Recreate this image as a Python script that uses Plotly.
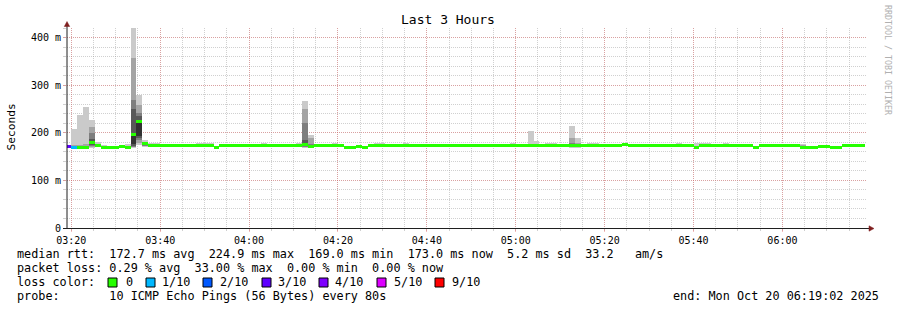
import plotly.graph_objects as go
import pandas as pd

# ---------------- data ----------------
TITLE = "Last 3 Hours"
FIRST_STEP = "2025-10-20 03:18:40"   # start of first (partial) 80 s step
STEP_SECONDS = 80
X_RANGE = ["2025-10-20 03:19:02", "2025-10-20 06:19:02"]

# median rtt per 80 s step (ms)
median_ms = [
    171, 170, 170, 170, 179, 174, 170, 169, 169, 171,
    169, 197, 223, 176.5, 172.5, 172.5, 172.5, 172.5, 173, 173.5,
    173.5, 172.5, 173, 173, 172.5, 170, 172.5, 172.5, 172.5, 174,
    172.5, 172.5, 172.5, 172.5, 172.5, 172.5, 174, 174, 172.5, 172.5,
    176, 172, 172.5, 172.5, 172.5, 172.5, 172.5, 170, 170, 171,
    169.5, 172.5, 174, 174, 172.5, 172.5, 172.5, 172.5, 172.5, 172.5,
    172.5, 172.5, 172.5, 172.5, 172.5, 173.5, 173.5, 172.5, 172.5, 172.5,
    174, 172.5, 172.5, 172.5, 172.5, 172.5, 172.5, 172.5, 174, 172.5,
    172.5, 172.5, 172.5, 172.5, 172.5, 172.5, 172.5, 172.5, 174, 174,
    172.5, 172.5, 172.5, 172.5, 174.5, 172.5, 172.5, 172.5, 172.5, 172.5,
    172.5, 172.5, 172.5, 174, 174, 172.5, 170, 172.5, 172.5, 172.5,
    172.5, 174, 174, 172.5, 172.5, 172.5, 169.5, 172.5, 174, 174,
    172.5, 172.5, 172.5, 172.5, 170, 169, 169, 171, 171, 170,
    169, 173, 173.5, 173.5, 173.5,
]

# packet loss (out of 10 pings) for steps with loss; all others 0
loss_by_step = {0: 3, 1: 1}

# max ping of steps with only a thin light smoke above the median (ms)
smoke_top_ms = {
    0: 174, 5: 180, 6: 174, 10: 176, 14: 177.5, 15: 177.5, 16: 177, 17: 177,
    22: 178, 23: 178, 24: 178, 33: 178, 38: 177, 39: 178, 42: 176, 45: 179,
    46: 176, 49: 175, 52: 178, 53: 178, 60: 176, 61: 176, 65: 177, 66: 177,
    71: 176, 72: 176, 81: 178, 82: 178, 88: 178, 89: 178, 91: 176, 96: 176,
    97: 176, 103: 178, 106: 178, 107: 178, 108: 178, 114: 176, 118: 176,
    119: 176, 120: 176, 121: 176, 122: 176,
}

# sorted ping values of steps with layered smoke (ms)
ping_sets = {
    1: [169, 169, 170, 170, 170, 170, 171, 172, 175, 207],
    2: [169, 169, 170, 170, 170, 170, 171, 172, 175, 238],
    3: [169, 169, 170, 170, 170, 170, 171, 172, 176, 255],
    4: [170, 171, 173, 176, 178, 180, 187, 200, 212, 226],
    11: [170, 171, 172, 174, 176, 200, 249, 268, 356, 420],
    12: [176, 180, 184, 190, 194, 226, 235, 242, 259, 280],
    13: [172, 173, 174, 175, 176, 177, 179, 180, 181, 183],
    40: [170, 171, 172, 173, 174, 178, 184, 221, 249, 266],
    41: [170, 171, 171, 172, 172, 173, 174, 176, 188, 196],
    57: [171, 172, 172, 172, 173, 173, 174, 176.5, 177, 177.5],
    75: [171, 172, 172, 172, 173, 173, 174, 176.5, 177, 177.5],
    78: [171, 172, 172, 173, 173, 174, 174, 175, 176, 203],
    79: [171, 172, 172, 173, 173, 174, 175, 176, 178, 182],
    85: [170, 171, 172, 172, 172, 173, 174, 179, 190, 215],
    86: [170, 171, 172, 172, 172, 173, 174, 176, 179, 188],
    111: [171, 172, 172, 172, 173, 173, 174, 176.5, 177, 178],
    124: [168, 168, 169, 169, 170, 170, 171, 174, 175, 176],
}

x_tick_vals = ["2025-10-20 03:20", "2025-10-20 03:40", "2025-10-20 04:00",
               "2025-10-20 04:20", "2025-10-20 04:40", "2025-10-20 05:00",
               "2025-10-20 05:20", "2025-10-20 05:40", "2025-10-20 06:00"]
x_tick_text = ["03:20", "03:40", "04:00", "04:20", "04:40", "05:00",
               "05:20", "05:40", "06:00"]
y_tick_vals = [0, 100, 200, 300, 400]
y_tick_text = ["0", "100 m", "200 m", "300 m", "400 m"]
Y_MAX = 420

loss_colors = {0: "#26ff00", 1: "#00b8ff", 2: "#0059ff", 3: "#5e00ff",
               4: "#7e00ff", 5: "#dd00ff", 9: "#ff0000"}
loss_labels = ["0", "1/10", "2/10", "3/10", "4/10", "5/10", "9/10"]
loss_keys = [0, 1, 2, 3, 4, 5, 9]
smoke_layer_colors = ["#cacaca", "#a4a4a4", "#7e7e7e", "#585858", "#323232",
                      "#585858", "#7e7e7e", "#a4a4a4", "#cacaca"]

RTT_TEXT = ("median rtt:  172.7 ms avg  224.9 ms max  169.0 ms min  "
            "173.0 ms now  5.2 ms sd  33.2   am/s")
LOSS_TEXT = "packet loss: 0.29 % avg  33.00 % max  0.00 % min  0.00 % now"
LOSS_COLOR_TITLE = "loss color:"
PROBE_TEXT = "probe:       10 ICMP Echo Pings (56 Bytes) every 80s"
END_TEXT = "end: Mon Oct 20 06:19:02 2025"

# ---------------- layout geometry ----------------
FW, FH = 897, 310
L, T, W, H = 67, 28, 800, 200
MONO = "DejaVu Sans Mono"
SW = 3.15  # half thickness of median band (ms)


def px(x):
    return (x - L) / W


def py(y):
    return (T + H - y) / H


start = pd.Timestamp(FIRST_STEP)
centers = [start + pd.Timedelta(seconds=STEP_SECONDS * k + STEP_SECONDS / 2)
           for k in range(len(median_ms))]
bar_w = STEP_SECONDS * 1000

fig = go.Figure()

# generic light smoke
gk = [k for k in smoke_top_ms if k not in ping_sets]
fig.add_trace(go.Bar(
    x=[centers[k] for k in gk],
    base=[median_ms[k] for k in gk],
    y=[smoke_top_ms[k] - median_ms[k] for k in gk],
    width=[bar_w] * len(gk), marker=dict(color="#cacaca", line=dict(width=0)),
    hoverinfo="skip", showlegend=False))

# layered smoke
pk = sorted(ping_sets)
for j in range(9):
    fig.add_trace(go.Bar(
        x=[centers[k] for k in pk],
        base=[ping_sets[k][j] for k in pk],
        y=[ping_sets[k][j + 1] - ping_sets[k][j] for k in pk],
        width=[bar_w] * len(pk),
        marker=dict(color=smoke_layer_colors[j], line=dict(width=0)),
        hoverinfo="skip", showlegend=False))

# median band coloured by loss
fig.add_trace(go.Bar(
    x=centers,
    base=[m - SW for m in median_ms],
    y=[2 * SW] * len(median_ms),
    width=[bar_w] * len(median_ms),
    marker=dict(color=[loss_colors[loss_by_step.get(k, 0)] for k in range(len(median_ms))],
                line=dict(width=0)),
    hoverinfo="skip", showlegend=False))

GRID = "rgba(150,150,150,0.45)"
MGRID = "rgba(230,90,90,0.4)"
DASH = "1px,1px"

fig.update_layout(
    width=FW, height=FH, autosize=False,
    margin=dict(l=L, r=FW - L - W, t=T, b=FH - T - H, pad=0),
    paper_bgcolor="white", plot_bgcolor="white",
    barmode="overlay", bargap=0, showlegend=False, hovermode=False,
    font=dict(family=MONO, color="black", size=10),
    xaxis=dict(
        type="date", range=X_RANGE, tickvals=x_tick_vals, ticktext=x_tick_text,
        showgrid=True, gridcolor=MGRID, griddash=DASH, gridwidth=1,
        ticks="outside", ticklen=3, tickcolor=MGRID,
        minor=dict(dtick=300000, tick0="2025-10-20 03:20:00", showgrid=True,
                   gridcolor=GRID, griddash=DASH, ticks="outside", ticklen=2,
                   tickcolor=GRID),
        showline=False, zeroline=False, tickfont=dict(family=MONO, size=10, color="black"),
        fixedrange=True),
    yaxis=dict(
        range=[0, Y_MAX], tickvals=y_tick_vals, ticktext=y_tick_text,
        showgrid=True, gridcolor=MGRID, griddash=DASH, gridwidth=1,
        ticks="outside", ticklen=3, tickcolor=MGRID,
        minor=dict(dtick=20, tick0=0, showgrid=True, gridcolor=GRID, griddash=DASH,
                   ticks="outside", ticklen=3, tickcolor=GRID),
        showline=False, zeroline=False, tickfont=dict(family=MONO, size=10, color="black"),
        fixedrange=True),
)

AX = "#1f1f1f"
ARROW = "#7f1f1f"
shapes = [
    dict(type="line", xref="paper", yref="paper", x0=px(67), x1=px(67),
         y0=py(228.5), y1=py(26), line=dict(color=AX, width=1), layer="above"),
    dict(type="line", xref="paper", yref="paper", x0=px(63), x1=px(869.5),
         y0=py(228.5), y1=py(228.5), line=dict(color=AX, width=1), layer="above"),
    dict(type="path", xref="paper", yref="paper",
         path=f"M {px(64.3)},{py(26.5)} L {px(67)},{py(21.5)} L {px(69.7)},{py(26.5)} Z",
         fillcolor=ARROW, line=dict(color=ARROW, width=0.5), layer="above"),
    dict(type="path", xref="paper", yref="paper",
         path=f"M {px(869)},{py(225.8)} L {px(874)},{py(228.5)} L {px(869)},{py(231.2)} Z",
         fillcolor=ARROW, line=dict(color=ARROW, width=0.5), layer="above"),
]

ann = []


def text(s, x, y, size=11.8, anchor="left", color="black", angle=0):
    ann.append(dict(text=s.replace(" ", "\u00a0"), x=px(x), y=py(y), xref="paper", yref="paper",
                    xanchor=anchor, yanchor="middle", showarrow=False, textangle=angle,
                    font=dict(family=MONO, size=size, color=color)))


text(TITLE, 448, 19, size=13, anchor="center")
text("Seconds", 10.5, 127, size=11.2, anchor="center", angle=-90)
text("RRDTOOL / TOBI OETIKER", 888, 60, size=8.3, anchor="center", color="#b0b0b0", angle=90)

text(RTT_TEXT, 15.3, 254.3)
text(LOSS_TEXT, 15.3, 268.3)
text(LOSS_COLOR_TITLE, 15.3, 282.3)
box_x = [108, 146, 203, 262, 319, 377, 435]
lab_x = [124, 160, 218, 276, 333, 392, 450]
for key, lab, bx, lx in zip(loss_keys, loss_labels, box_x, lab_x):
    shapes.append(dict(type="rect", xref="paper", yref="paper",
                       x0=px(bx), x1=px(bx + 9), y0=py(287), y1=py(278),
                       fillcolor=loss_colors[key], line=dict(color="black", width=1),
                       layer="above"))
    text(lab, lx, 282.3)
text(PROBE_TEXT, 15.3, 296)
text(END_TEXT, 881, 296, anchor="right")

fig.update_layout(shapes=shapes, annotations=ann)
fig.write_html("out.html")
